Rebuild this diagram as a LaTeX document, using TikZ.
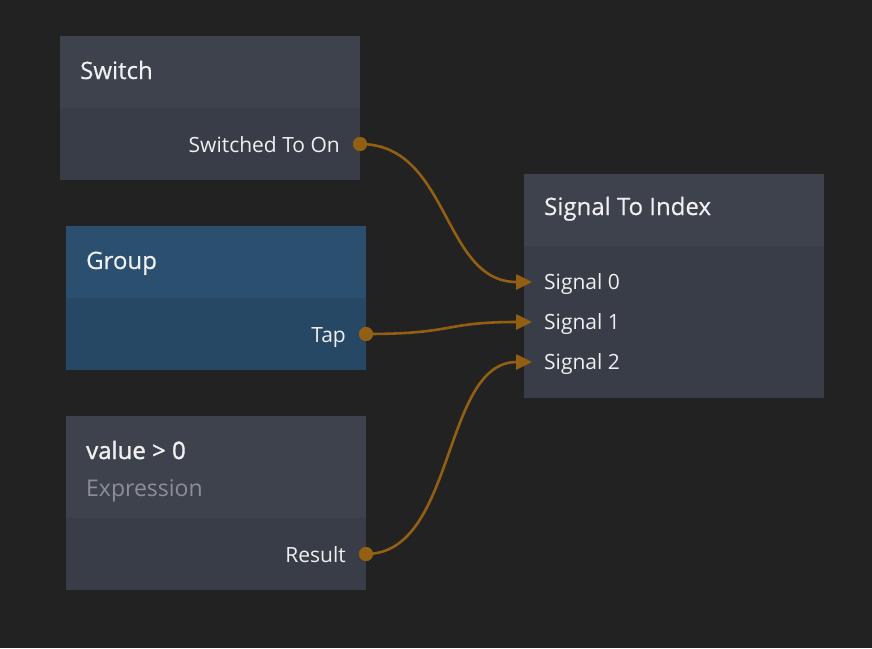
\documentclass[tikz,border=0pt]{standalone}
\usepackage{fontspec}
\setmainfont{Open Sans}
\newfontfamily\sbfont[FakeBold=1.3]{Open Sans}
\newfontfamily\ttlfont[FakeBold=0.4]{Open Sans}
\usetikzlibrary{arrows.meta}
\definecolor{bg}{HTML}{222222}
\definecolor{nodehead}{HTML}{3E424D}
\definecolor{nodebody}{HTML}{393D48}
\definecolor{grphead}{HTML}{2B4F6E}
\definecolor{grpbody}{HTML}{274864}
\definecolor{wire}{HTML}{935F12}
\definecolor{txt}{HTML}{F0F0F0}
\definecolor{subtxt}{HTML}{8C8F96}
\tikzset{
  box/.style={rectangle, draw=none, inner sep=0pt, outer sep=0pt, anchor=north west},
  ttl/.style={inner sep=0pt, anchor=base west, text=txt, font=\ttlfont\fontsize{24}{28}\selectfont},
  sub/.style={inner sep=0pt, anchor=base west, text=subtxt, font=\fontsize{23}{28}\selectfont},
  outlbl/.style={inner sep=0pt, anchor=base east, text=txt, font=\fontsize{21}{25}\selectfont},
  inlbl/.style={inner sep=0pt, anchor=base west, text=txt, font=\fontsize{21}{25}\selectfont},
  port/.style={circle, fill=wire, inner sep=0pt, minimum size=14pt},
  wirestyle/.style={draw=wire, line width=2.6pt, -{Triangle[length=16pt,width=15pt]}},
}
\begin{document}
\begin{tikzpicture}[x=1pt,y=-1pt]
\fill[bg] (0,0) rectangle (872,648);
\useasboundingbox (0,0) rectangle (872,648);
% Switch
\node[box, fill=nodehead, minimum width=300pt, minimum height=72pt] (swh) at (60,36) {};
\node[box, fill=nodebody, minimum width=300pt, minimum height=72pt] (swb) at (60,108) {};
\node[ttl] (swt) at (80,79) {Switch};
\node[outlbl] (swo) at (340,152) {Switched To On};
% Group
\node[box, fill=grphead, minimum width=300pt, minimum height=72pt] (grh) at (66,226) {};
\node[box, fill=grpbody, minimum width=300pt, minimum height=72pt] (grb) at (66,298) {};
\node[ttl] (grt) at (86,269) {Group};
\node[outlbl] (gro) at (346,342) {Tap};
% Expression
\node[box, fill=nodehead, minimum width=300pt, minimum height=102pt] (exh) at (66,416) {};
\node[box, fill=nodebody, minimum width=300pt, minimum height=72pt] (exb) at (66,518) {};
\node[ttl, font=\sbfont\fontsize{24}{28}\selectfont] (ext) at (86,459) {value > 0};
\node[sub] (exs) at (86,496) {Expression};
\node[outlbl] (exo) at (346,562) {Result};
% Signal To Index
\node[box, fill=nodehead, minimum width=300pt, minimum height=72pt] (sih) at (524,174) {};
\node[box, fill=nodebody, minimum width=300pt, minimum height=152pt] (sib) at (524,246) {};
\node[ttl] (sit) at (544,215) {Signal To Index};
\node[inlbl] (si0) at (544,289.5) {Signal 0};
\node[inlbl] (si1) at (544,329.5) {Signal 1};
\node[inlbl] (si2) at (544,369.5) {Signal 2};
% ports
\coordinate (in0) at (532,282);
\coordinate (in1) at (532,322);
\coordinate (in2) at (532,362);
\node[port] (p0) at (360,144) {};
\node[port] (p1) at (366,334) {};
\node[port] (p2) at (366,554) {};
% wires
\draw[wirestyle] (p0.center) .. controls ++(90,0) and ++(-90,0) .. (in0);
\draw[wirestyle] (p1.center) .. controls ++(90,0) and ++(-90,0) .. (in1);
\draw[wirestyle] (p2.center) .. controls ++(90,0) and ++(-90,0) .. (in2);
\node[port] at (p0) {};
\node[port] at (p1) {};
\node[port] at (p2) {};
\end{tikzpicture}
\end{document}
